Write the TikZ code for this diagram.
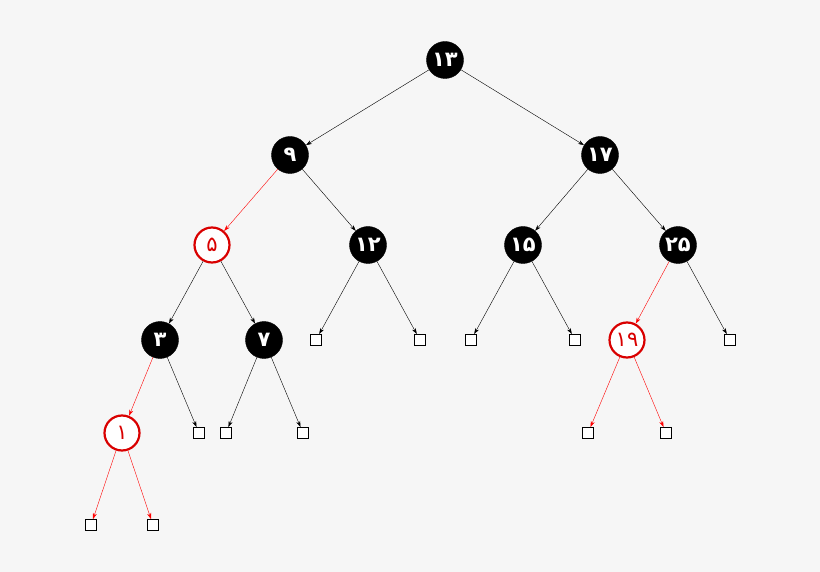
\documentclass[tikz,border=0pt]{standalone}
\usepackage{fontspec}
\newfontfamily\pfont{DejaVu Sans}
\usetikzlibrary{arrows.meta}
\begin{document}
\begin{tikzpicture}[x=1pt,y=-1pt,
 bnode/.style={circle,fill=black,draw=black,minimum size=37pt,inner sep=0pt,text=white,font=\pfont\bfseries\fontsize{21}{21}\selectfont},
 rnode/.style={circle,fill=white,draw=red!85!black,line width=2.2pt,minimum size=35pt,inner sep=0pt,text=red!85!black,font=\pfont\fontsize{21}{21}\selectfont},
 leaf/.style={draw=black,fill=white,minimum size=11pt,inner sep=0pt,line width=0.8pt},
 bedge/.style={-{Stealth[length=6pt,width=4pt]},line width=0.4pt,draw=black},
 redge/.style={-{Stealth[length=6pt,width=4pt]},line width=0.4pt,draw=red}]
\fill[gray!7] (0,0) rectangle (820,572);
\useasboundingbox (0,0) rectangle (820,572);
\node[bnode] (n13) at (445,60) {۱۳};
\node[bnode] (n9) at (290,155) {۹};
\node[bnode] (n17) at (600,155) {۱۷};
\node[rnode] (n5) at (212,245) {۵};
\node[bnode] (n12) at (368,245) {۱۲};
\node[bnode] (n15) at (523,245) {۱۵};
\node[bnode] (n25) at (678,245) {۲۵};
\node[bnode] (n3) at (160,340) {۳};
\node[bnode] (n7) at (264,340) {۷};
\node[rnode] (n19) at (627,340) {۱۹};
\node[rnode] (n1) at (122,433) {۱};
\node[leaf] (l1) at (316,340) {};
\node[leaf] (l2) at (420,340) {};
\node[leaf] (l3) at (471,340) {};
\node[leaf] (l4) at (575,340) {};
\node[leaf] (l5) at (730,340) {};
\node[leaf] (l6) at (199,433) {};
\node[leaf] (l7) at (226,433) {};
\node[leaf] (l8) at (303,433) {};
\node[leaf] (l9) at (588,433) {};
\node[leaf] (l10) at (666,433) {};
\node[leaf] (l11) at (91,525) {};
\node[leaf] (l12) at (153,525) {};
\draw[bedge] (n13) -- (n9);
\draw[bedge] (n13) -- (n17);
\draw[redge] (n9) -- (n5);
\draw[bedge] (n9) -- (n12);
\draw[bedge] (n17) -- (n15);
\draw[bedge] (n17) -- (n25);
\draw[bedge] (n5) -- (n3);
\draw[bedge] (n5) -- (n7);
\draw[bedge] (n12) -- (l1);
\draw[bedge] (n12) -- (l2);
\draw[bedge] (n15) -- (l3);
\draw[bedge] (n15) -- (l4);
\draw[redge] (n25) -- (n19);
\draw[bedge] (n25) -- (l5);
\draw[redge] (n3) -- (n1);
\draw[bedge] (n3) -- (l6);
\draw[bedge] (n7) -- (l7);
\draw[bedge] (n7) -- (l8);
\draw[redge] (n19) -- (l9);
\draw[redge] (n19) -- (l10);
\draw[redge] (n1) -- (l11);
\draw[redge] (n1) -- (l12);
\end{tikzpicture}
\end{document}
